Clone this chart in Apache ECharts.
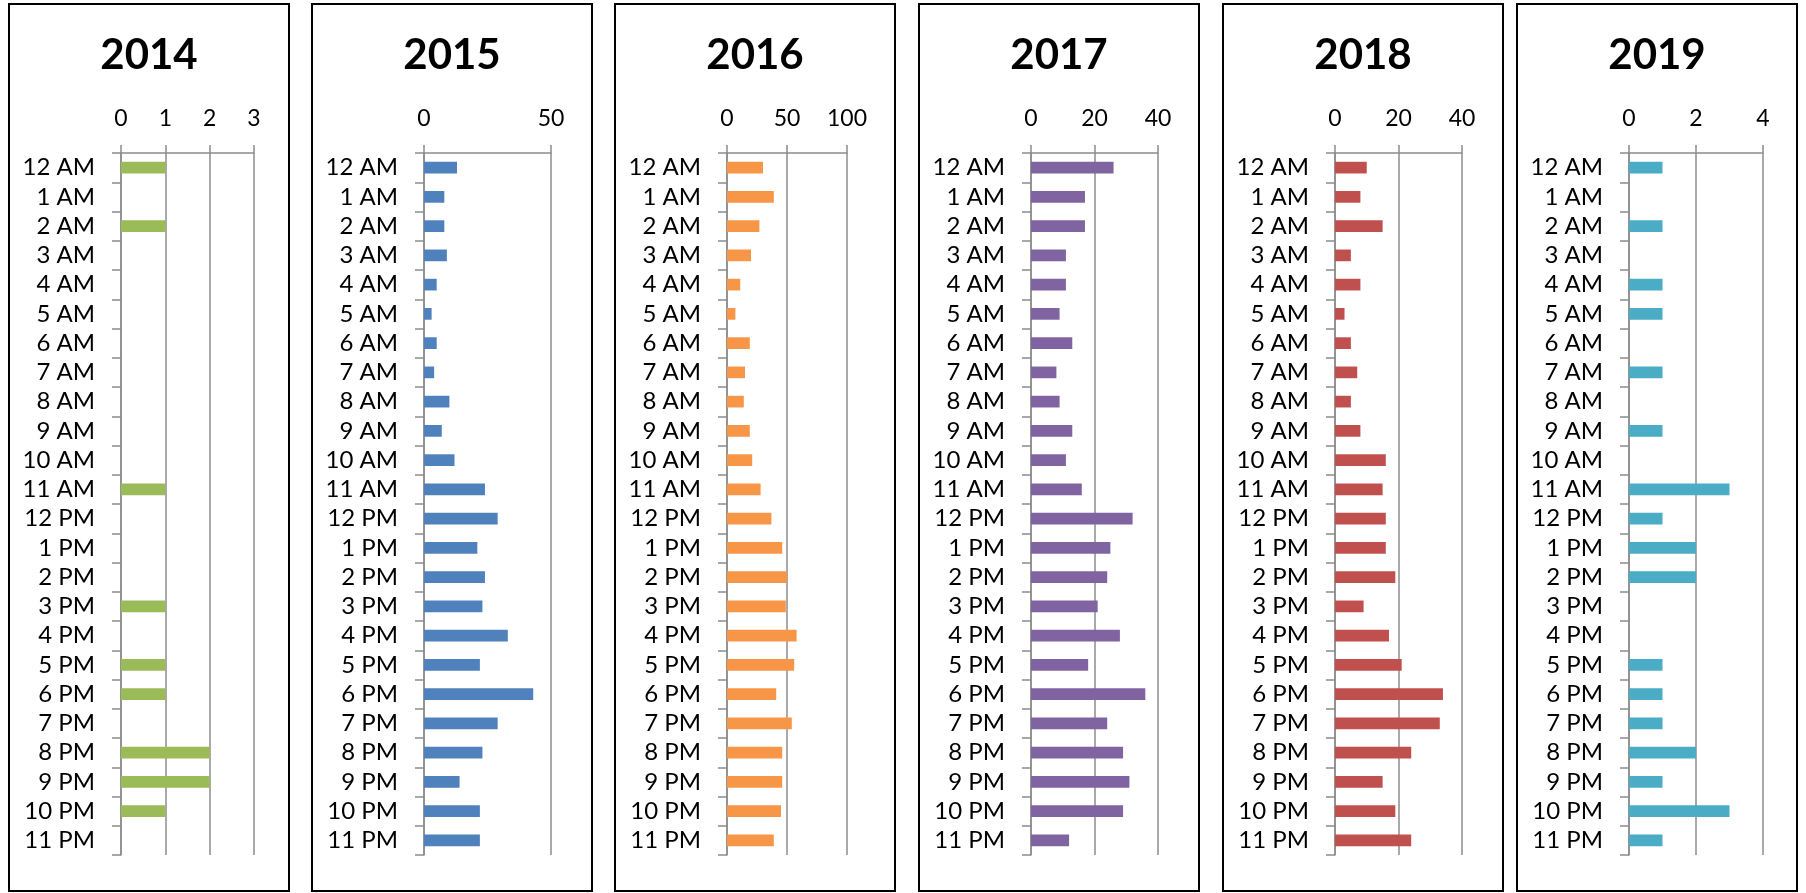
<!DOCTYPE html>
<html>
<head>
<meta charset="utf-8">
<script src="https://cdn.jsdelivr.net/npm/echarts@6/dist/echarts.min.js"></script>
<style>
html, body { margin: 0; padding: 0; background: #fff; }
#main { width: 1806px; height: 893px; }
</style>
</head>
<body>
<div id="main"></div>
<script>
// 数据
var hours = ['12 AM', '1 AM', '2 AM', '3 AM', '4 AM', '5 AM', '6 AM', '7 AM', '8 AM', '9 AM', '10 AM', '11 AM',
             '12 PM', '1 PM', '2 PM', '3 PM', '4 PM', '5 PM', '6 PM', '7 PM', '8 PM', '9 PM', '10 PM', '11 PM'];
var years = ['2014', '2015', '2016', '2017', '2018', '2019'];

var v2014 = [1, 0, 1, 0, 0, 0, 0, 0, 0, 0, 0, 1, 0, 0, 0, 1, 0, 1, 1, 0, 2, 2, 1, 0];
var v2015 = [13, 8, 8, 9, 5, 3, 5, 4, 10, 7, 12, 24, 29, 21, 24, 23, 33, 22, 43, 29, 23, 14, 22, 22];
var v2016 = [30, 39, 27, 20, 11, 7, 19, 15, 14, 19, 21, 28, 37, 46, 50, 49, 58, 56, 41, 54, 46, 46, 45, 39];
var v2017 = [26, 17, 17, 11, 11, 9, 13, 8, 9, 13, 11, 16, 32, 25, 24, 21, 28, 18, 36, 24, 29, 31, 29, 12];
var v2018 = [10, 8, 15, 5, 8, 3, 5, 7, 5, 8, 16, 15, 16, 16, 19, 9, 17, 21, 34, 33, 24, 15, 19, 24];
var v2019 = [1, 0, 1, 0, 1, 1, 0, 1, 0, 1, 0, 3, 1, 2, 2, 0, 0, 1, 1, 1, 2, 1, 3, 1];

var allValues = [v2014, v2015, v2016, v2017, v2018, v2019];
var axisMax = [3, 50, 100, 40, 40, 4];
var axisStep = [1, 50, 50, 20, 20, 2];
var colors = ['#9BBB59', '#4F81BD', '#F79646', '#8064A2', '#C0504D', '#4BACC6'];

// 布局
var panelLeft = [8, 311, 614, 918, 1222, 1516];
var panelWidth = 282;
var plotWidth = [133, 127, 120, 127, 127, 134];

var myChart = echarts.init(document.getElementById('main'));

var titles = [], grids = [], xAxes = [], yAxes = [], series = [], frames = [];
var gridColor = '#8c8c8c';
var fontName = 'Lato';

for (var i = 0; i < years.length; i++) {
    var left = panelLeft[i];
    titles.push({
        text: years[i],
        left: left + panelWidth / 2,
        top: 55,
        padding: 0,
        textAlign: 'center',
        textVerticalAlign: 'middle',
        textStyle: { fontFamily: fontName, fontWeight: 'bold', fontSize: 42, color: '#000' }
    });
    grids.push({
        left: left + 113,
        top: 153,
        width: plotWidth[i],
        height: 702
    });
    xAxes.push({
        type: 'value',
        gridIndex: i,
        position: 'top',
        min: 0,
        max: axisMax[i],
        interval: axisStep[i],
        axisLine: { show: true, lineStyle: { color: gridColor, width: 1.5 } },
        axisTick: { show: true, length: 8, lineStyle: { color: gridColor, width: 1.5 } },
        splitLine: { show: true, lineStyle: { color: gridColor, width: 1.5 } },
        axisLabel: { margin: 23, fontFamily: fontName, fontSize: 23, color: '#000' }
    });
    yAxes.push({
        type: 'category',
        gridIndex: i,
        data: hours,
        inverse: true,
        axisLine: { show: true, lineStyle: { color: gridColor, width: 1.5 } },
        axisTick: { show: true, length: 9, lineStyle: { color: gridColor, width: 1.5 } },
        axisLabel: { margin: 26, interval: 0, fontFamily: fontName, fontSize: 24, color: '#000' }
    });
    series.push({
        type: 'bar',
        name: years[i],
        xAxisIndex: i,
        yAxisIndex: i,
        data: allValues[i],
        barWidth: '40%',
        itemStyle: { color: colors[i] },
        silent: true
    });
    frames.push({
        type: 'rect',
        shape: { x: left + 1, y: 4, width: panelWidth - 2, height: 887 },
        style: { fill: 'none', stroke: '#000', lineWidth: 2 },
        silent: true
    });
}

var option = {
    backgroundColor: '#fff',
    animation: false,
    title: titles,
    grid: grids,
    xAxis: xAxes,
    yAxis: yAxes,
    series: series,
    graphic: frames
};

myChart.setOption(option);
</script>
</body>
</html>
